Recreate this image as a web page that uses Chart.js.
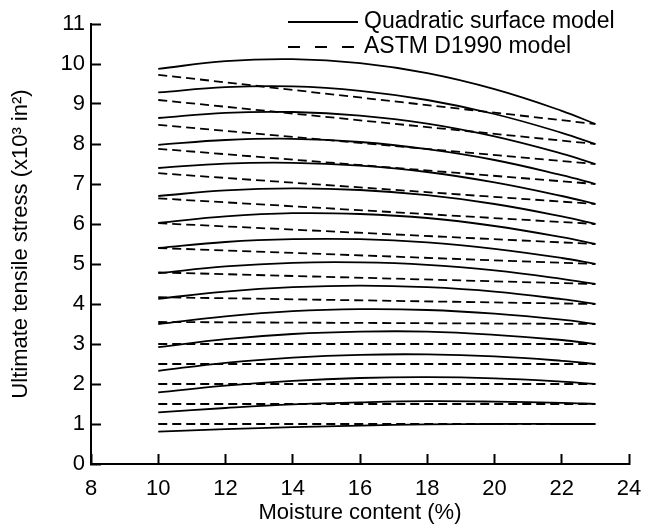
<!DOCTYPE html>
<html>
<head>
<meta charset="utf-8">
<script src="https://cdn.jsdelivr.net/npm/chart.js@4.4.1/dist/chart.umd.min.js"></script>
<style>
  html, body { margin: 0; padding: 0; background: #fff; }
</style>
</head>
<body>
<canvas id="chart" width="658" height="531"></canvas>
<script>
//moisture content points (%) for the quadratic surface model curves
const moisture = [10, 12, 14, 16, 18, 20, 22, 23];

//quadratic surface model, one curve per strength level (x10^3 lb/in2)
const quad85 = [9.88, 10.07, 10.12, 10.02, 9.77, 9.37, 8.83, 8.5];
const quad80 = [9.29, 9.42, 9.44, 9.33, 9.10, 8.75, 8.28, 8.0];
const quad75 = [8.65, 8.78, 8.80, 8.71, 8.51, 8.19, 7.76, 7.5];
const quad70 = [7.98, 8.10, 8.13, 8.05, 7.87, 7.60, 7.22, 7.0];
const quad65 = [7.40, 7.51, 7.53, 7.46, 7.30, 7.04, 6.70, 6.5];
const quad60 = [6.70, 6.84, 6.89, 6.85, 6.72, 6.50, 6.19, 6.0];
const quad55 = [6.03, 6.19, 6.27, 6.25, 6.15, 5.95, 5.67, 5.5];
const quad50 = [5.40, 5.55, 5.62, 5.62, 5.54, 5.38, 5.15, 5.0];
const quad45 = [4.77, 4.94, 5.03, 5.04, 4.98, 4.84, 4.63, 4.5];
const quad40 = [4.13, 4.31, 4.42, 4.46, 4.42, 4.31, 4.12, 4.0];
const quad35 = [3.50, 3.69, 3.82, 3.87, 3.85, 3.76, 3.61, 3.5];
const quad30 = [2.92, 3.12, 3.25, 3.31, 3.31, 3.23, 3.10, 3.0];
const quad25 = [2.33, 2.53, 2.66, 2.73, 2.74, 2.69, 2.58, 2.5];
const quad20 = [1.79, 1.96, 2.08, 2.15, 2.17, 2.14, 2.06, 2.0];
const quad15 = [1.29, 1.40, 1.49, 1.54, 1.57, 1.56, 1.53, 1.5];
const quad10 = [0.81, 0.87, 0.92, 0.96, 0.99, 1.00, 1.00, 1.0];

const quadCurves = [quad85, quad80, quad75, quad70, quad65, quad60, quad55, quad50,
                    quad45, quad40, quad35, quad30, quad25, quad20, quad15, quad10];

//ASTM D1990 lines are straight, so just the two ends
const astmMoisture = [10, 23];
const astmStart = [9.73, 9.10, 8.48, 7.88, 7.27, 6.64, 6.02, 5.40, 4.79, 4.17, 3.55, 3.0, 2.5, 2.0, 1.5, 1.0];
const astmEnd   = [8.5, 8.0, 7.5, 7.0, 6.5, 6.0, 5.5, 5.0, 4.5, 4.0, 3.5, 3.0, 2.5, 2.0, 1.5, 1.0];

const legendLabels = ["Quadratic surface model", "ASTM D1990 model"];

const FONT = "'Liberation Sans', Arial, Helvetica, sans-serif";

//build the datasets
const datasets = [];
quadCurves.forEach(curve => {
  datasets.push({
    label: legendLabels[0],
    data: moisture.map((m, i) => ({ x: m, y: curve[i] })),
    borderColor: "#000",
    borderWidth: 1.8,
    pointRadius: 0,
    tension: 0.4,
  });
});
astmStart.forEach((s, i) => {
  datasets.push({
    label: legendLabels[1],
    data: [{ x: astmMoisture[0], y: s }, { x: astmMoisture[1], y: astmEnd[i] }],
    borderColor: "#000",
    borderWidth: 1.8,
    borderDash: [9, 5],
    pointRadius: 0,
  });
});

//small legend in the top right, solid and dashed sample lines
const legendPlugin = {
  id: "sampleLegend",
  afterDraw(chart) {
    const ctx = chart.ctx;
    const rows = [
      { y: 22, dash: [], text: legendLabels[0] },
      { y: 47, dash: [12, 15], text: legendLabels[1] },
    ];
    ctx.save();
    ctx.strokeStyle = "#000";
    ctx.lineWidth = 2;
    ctx.fillStyle = "#000";
    ctx.font = "23px " + FONT;
    ctx.textBaseline = "middle";
    rows.forEach(r => {
      ctx.setLineDash(r.dash);
      ctx.beginPath();
      ctx.moveTo(288, r.y);
      ctx.lineTo(358, r.y);
      ctx.stroke();
      ctx.fillText(r.text, 364, r.y);
    });
    ctx.restore();
  }
};

new Chart(document.getElementById("chart"), {
  type: "line",
  data: { datasets },
  plugins: [legendPlugin],
  options: {
    responsive: false,
    animation: false,
    devicePixelRatio: 1,
    layout: { padding: { top: 24, right: 29, left: 0, bottom: 0 } },
    plugins: { legend: { display: false }, tooltip: { enabled: false } },
    scales: {
      x: {
        type: "linear",
        min: 8, max: 24,
        //fixed height and no extra room for the end labels, so the plot box matches
        afterFit: s => { s.height = 67; s.paddingLeft = 0; s.paddingRight = 0; },
        ticks: { stepSize: 2, color: "#000", font: { family: FONT, size: 22 }, padding: 22, maxRotation: 0 },
        grid: { drawOnChartArea: false, tickLength: -10, tickWidth: 2, color: "#000" },
        border: { color: "#000", width: 2 },
        title: { display: true, text: "Moisture content (%)", color: "#000",
                 font: { family: FONT, size: 22 }, padding: { top: 0, bottom: 5 } },
      },
      y: {
        min: 0, max: 11,
        afterFit: s => { s.width = 91; s.paddingTop = 0; s.paddingBottom = 0; },
        ticks: { stepSize: 1, color: "#000", font: { family: FONT, size: 22 }, padding: 16 },
        grid: { drawOnChartArea: false, tickLength: -10, tickWidth: 2, color: "#000" },
        border: { color: "#000", width: 2 },
        title: { display: true, text: "Ultimate tensile stress (x10³ in²)", color: "#000",
                 font: { family: FONT, size: 22 }, padding: { top: 8, bottom: 0 } },
      }
    }
  }
});
</script>
</body>
</html>
